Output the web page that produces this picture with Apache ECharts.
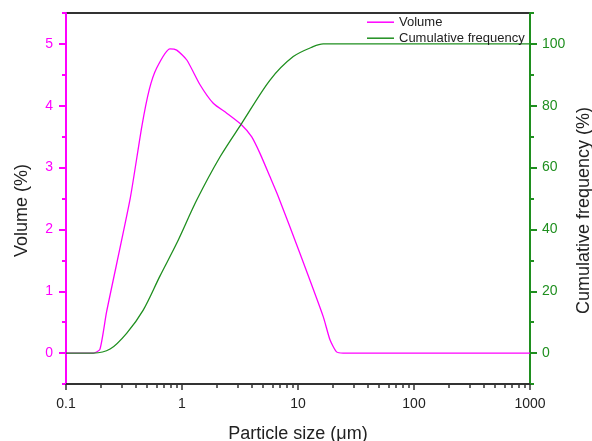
<!DOCTYPE html>
<html>

<head>
  <title>Particle size</title>
  <script src="https://cdn.jsdelivr.net/npm/echarts@6/dist/echarts.min.js"></script>
  <style>
    body { margin: 0; background: #fff; }
  </style>
</head>

<body>
  <div id="main" style="width: 592px;height:441px;"></div>
  <script>
    // volume curve (x in um, y in %)
    var volSize = [0.1, 0.172, 0.196, 0.224, 0.356, 0.45, 0.522, 0.605, 0.788, 0.9, 1.1, 1.43, 1.86, 2.43, 3.27, 3.98, 4.7, 5.74, 6.77, 10.4, 16.5, 18.9, 21.5, 24.5, 1000];
    var volValue = [0, 0, 0.06, 0.67, 2.48, 3.66, 4.26, 4.61, 4.92, 4.90, 4.74, 4.34, 4.04, 3.88, 3.69, 3.50, 3.23, 2.85, 2.53, 1.61, 0.59, 0.21, 0.02, 0, 0];
    // cumulative curve
    var cumSize = [0.1, 0.172, 0.24, 0.333, 0.463, 0.645, 0.9, 1.34, 2.13, 3.27, 5.74, 9.1, 13.5, 16.5, 1000];
    var cumValue = [0, 0, 1.3, 6.4, 13.9, 24.9, 35.5, 49.5, 63.5, 74.3, 88.3, 95.9, 99.1, 100, 100];
    // ticks
    var decades = [0.1, 1, 10, 100];
    var volTicks = [0, 1, 2, 3, 4, 5];
    var volMinor = [-0.5, 0.5, 1.5, 2.5, 3.5, 4.5, 5.5];
    var cumTicks = [0, 20, 40, 60, 80, 100];
    var cumMinor = [-10, 10, 30, 50, 70, 90, 110];

    var magenta = '#ff00ff';
    var green = '#1f8f1f';
    var font = 'Liberation Sans, Arial, sans-serif';

    // minor tick positions 2..9 in each decade, in log10 units
    var minorTicks = [];
    decades.forEach(function (d) {
      for (var k = 2; k <= 9; k++) minorTicks.push(Math.log10(k * d));
    });

    function minorAxis(position, min, max, values, color) {
      return {
        type: 'value', position: position, min: min, max: max,
        axisLine: { show: false, onZero: false },
        axisTick: { show: true, length: 4, customValues: values, lineStyle: { color: color, width: 2 } },
        axisLabel: { show: false },
        splitLine: { show: false }
      };
    }

    function legendItem(name, top) {
      return {
        orient: 'vertical',
        left: 367, top: top, padding: 0,
        itemWidth: 27, itemHeight: 1.5,
        textStyle: { fontSize: 13, color: '#222', fontFamily: font },
        data: [{ name: name, icon: 'rect' }]
      };
    }

    var myChart = echarts.init(document.getElementById('main'));
    var option = {
      animation: false,
      grid: {
        left: 66, right: 62, top: 13, bottom: 57,
        outerBoundsMode: 'none',
        show: true, borderColor: '#333', borderWidth: 2
      },
      legend: [legendItem('Volume', 11), legendItem('Cumulative frequency', 27)],
      xAxis: [{
        type: 'log',
        logBase: 10,
        min: 0.1, max: 1000,
        name: 'Particle size (\u03bcm)',
        nameLocation: 'middle',
        nameGap: 35,
        nameMoveOverlap: false,
        nameTextStyle: { fontSize: 18, color: '#222', fontFamily: font },
        axisLine: { onZero: false, lineStyle: { color: '#333', width: 2 } },
        axisTick: { inside: false, length: 6, lineStyle: { color: '#333', width: 1.5 } },
        axisLabel: {
          fontSize: 14, color: '#222', fontFamily: font, margin: 8,
          formatter: function (v) { return String(v); }
        },
        splitLine: { show: false }
      }, {
        // minor ticks only
        type: 'value',
        position: 'bottom',
        min: -1, max: 3,
        axisLine: { show: false, onZero: false },
        axisTick: { show: true, length: 4, customValues: minorTicks, lineStyle: { color: '#333', width: 1.5 } },
        axisLabel: { show: false },
        splitLine: { show: false }
      }],
      yAxis: [{
        type: 'value',
        min: -0.5, max: 5.5,
        name: 'Volume (%)',
        nameLocation: 'middle',
        nameGap: 28,
        nameMoveOverlap: false,
        nameTextStyle: { fontSize: 18, color: '#222', fontFamily: font, padding: [0, 24, 0, 0] },
        axisLine: { show: true, onZero: false, lineStyle: { color: magenta, width: 2 } },
        axisTick: { show: true, length: 7, customValues: volTicks, lineStyle: { color: magenta, width: 2 } },
        axisLabel: { fontSize: 14, color: magenta, fontFamily: font, margin: 13, customValues: volTicks },
        splitLine: { show: false }
      }, {
        type: 'value',
        min: -10, max: 110,
        name: 'Cumulative frequency (%)',
        nameLocation: 'middle',
        nameGap: 39,
        nameRotate: 90,
        nameMoveOverlap: false,
        nameTextStyle: { fontSize: 18, color: '#222', fontFamily: font, padding: [0, 24, 0, 0] },
        axisLine: { show: true, onZero: false, lineStyle: { color: green, width: 2 } },
        axisTick: { show: true, length: 7, customValues: cumTicks, lineStyle: { color: green, width: 2 } },
        axisLabel: { fontSize: 14, color: green, fontFamily: font, margin: 12, customValues: cumTicks },
        splitLine: { show: false }
      },
      minorAxis('left', -0.5, 5.5, volMinor, magenta),
      minorAxis('right', -10, 110, cumMinor, green)
      ],
      series: [{
        name: 'Volume',
        type: 'line',
        yAxisIndex: 0,
        symbol: 'none',
        smooth: 0.2,
        lineStyle: { color: magenta, width: 1.3 },
        itemStyle: { color: magenta },
        data: volSize.map(function (s, i) { return [s, volValue[i]]; })
      }, {
        name: 'Cumulative frequency',
        type: 'line',
        yAxisIndex: 1,
        symbol: 'none',
        smooth: 0.3,
        lineStyle: { color: green, width: 1.3 },
        itemStyle: { color: green },
        data: cumSize.map(function (s, i) { return [s, cumValue[i]]; })
      }]
    };
    myChart.setOption(option);
  </script>
</body>

</html>
